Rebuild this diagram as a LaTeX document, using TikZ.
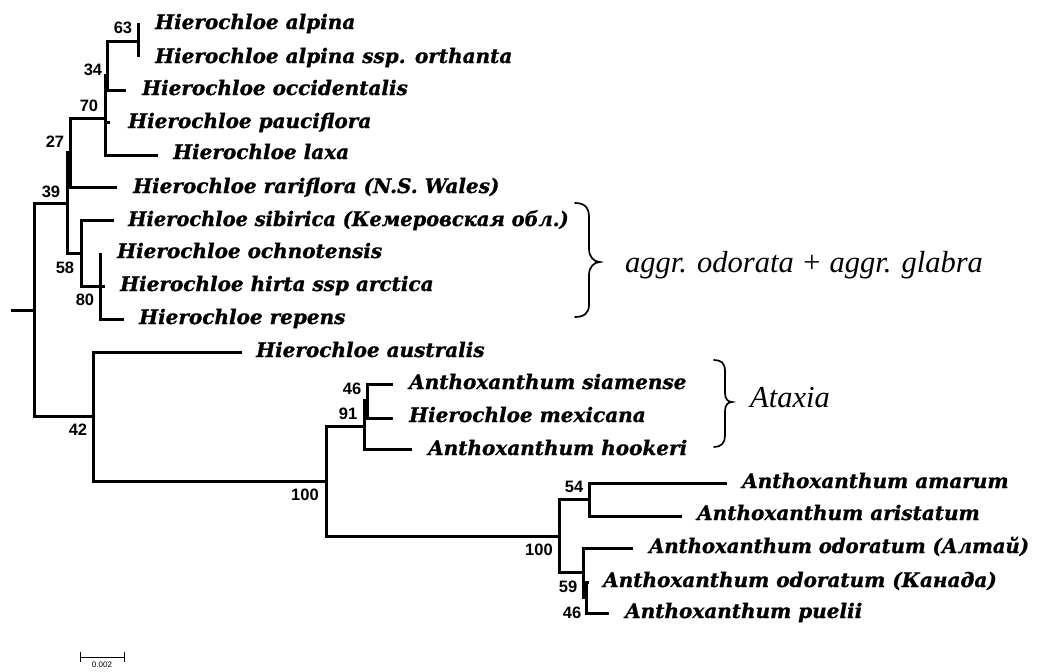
\documentclass[tikz,border=0pt]{standalone}
\usepackage{fontspec}
\newfontfamily\taxfont[BoldItalicFeatures={FakeBold=1}]{DejaVu Serif}
\newfontfamily\bsfont{Liberation Sans}
\newfontfamily\notefont{Liberation Serif}
\begin{document}
\begin{tikzpicture}[x=1pt,y=-1pt,
  branch/.style={line width=3pt},
  taxon/.style={anchor=base west, inner sep=0pt,
    font=\taxfont\bfseries\itshape\fontsize{20}{20}\selectfont},
  boot/.style={inner sep=0pt, font=\bsfont\bfseries\fontsize{16.5}{16.5}\selectfont},
  note/.style={anchor=base west, inner sep=0pt,
    font=\notefont\itshape\fontsize{30.5}{30.5}\selectfont},
  bracepath/.style={line width=1.7pt, line cap=round}]
\useasboundingbox (0,0) rectangle (1037,672);

% internal nodes
\coordinate (stub) at (11,310);
\coordinate (n0) at (34,310);
\coordinate (n39) at (67,203);
\coordinate (n27) at (70,152);
\coordinate (n70) at (105,118);
\coordinate (n34) at (107,75);
\coordinate (n63) at (138,41);
\coordinate (n58) at (81,253);
\coordinate (n80) at (100,286);
\coordinate (n42) at (93,416);
\coordinate (n100a) at (326,481);
\coordinate (n91) at (364,426);
\coordinate (n46a) at (367,400);
\coordinate (n100b) at (559,536);
\coordinate (n54) at (589,499);
\coordinate (n59) at (583,572);
\coordinate (n46b) at (586,597);

% tips
\coordinate (t-alp) at (138,23);
\coordinate (t-orth) at (138,57);
\coordinate (t-occ) at (126,90);
\coordinate (t-pau) at (110,122);
\coordinate (t-lax) at (158,155);
\coordinate (t-rar) at (117,187);
\coordinate (t-sib) at (114,220);
\coordinate (t-och) at (100,253);
\coordinate (t-hir) at (105,286);
\coordinate (t-rep) at (124,319);
\coordinate (t-aus) at (242,352);
\coordinate (t-sia) at (393,384);
\coordinate (t-mex) at (393,418);
\coordinate (t-hoo) at (412,449);
\coordinate (t-ama) at (727,483);
\coordinate (t-ari) at (682,516);
\coordinate (t-alt) at (633,548);
\coordinate (t-kan) at (589,582);
\coordinate (t-pue) at (609,613);

% branches
\draw[branch] (stub) -- (n0);
\foreach \p/\c in {n0/n39, n0/n42,
    n39/n27, n39/n58,
    n27/n70, n27/t-rar,
    n70/n34, n70/t-pau, n70/t-lax,
    n34/n63, n34/t-occ,
    n63/t-alp, n63/t-orth,
    n58/t-sib, n58/n80,
    n80/t-och, n80/t-hir, n80/t-rep,
    n42/t-aus, n42/n100a,
    n100a/n91, n100a/n100b,
    n91/n46a, n91/t-hoo,
    n46a/t-sia, n46a/t-mex,
    n100b/n54, n100b/n59,
    n54/t-ama, n54/t-ari,
    n59/t-alt, n59/n46b,
    n46b/t-kan, n46b/t-pue}
  \draw[branch] (\p) |- (\c);

% taxon names
\node[taxon] (l-alp) at (155,29) {Hierochloe alpina};
\node[taxon] (l-orth) at (155,63) {Hierochloe alpina ssp. orthanta};
\node[taxon] (l-occ) at (142,95) {Hierochloe occidentalis};
\node[taxon] (l-pau) at (128,128) {Hierochloe pauciflora};
\node[taxon] (l-lax) at (173,159) {Hierochloe laxa};
\node[taxon] (l-rar) at (133,193) {Hierochloe rariflora (N.S. Wales)};
\node[taxon] (l-sib) at (128,226) {\scalebox{0.97}[1]{Hierochloe sibirica (Кемеровская обл.)}};
\node[taxon] (l-och) at (117,258) {Hierochloe ochnotensis};
\node[taxon] (l-hir) at (120,291) {Hierochloe hirta ssp arctica};
\node[taxon] (l-rep) at (139,324) {Hierochloe repens};
\node[taxon] (l-aus) at (256,357) {Hierochloe australis};
\node[taxon] (l-sia) at (409,389) {Anthoxanthum siamense};
\node[taxon] (l-mex) at (409,422) {Hierochloe mexicana};
\node[taxon] (l-hoo) at (428,455) {Anthoxanthum hookeri};
\node[taxon] (l-ama) at (742,488) {Anthoxanthum amarum};
\node[taxon] (l-ari) at (697,520) {Anthoxanthum aristatum};
\node[taxon] (l-alt) at (649,553) {\scalebox{0.98}[1]{Anthoxanthum odoratum (Алтай)}};
\node[taxon] (l-kan) at (603,587) {Anthoxanthum odoratum (Канада)};
\node[taxon] (l-pue) at (625,618) {Anthoxanthum puelii};

% bootstrap support
\node[boot] (b63) at (123,28) {63};
\node[boot] (b34) at (93,70) {34};
\node[boot] (b70) at (89,106) {70};
\node[boot] (b27) at (55,142) {27};
\node[boot] (b39) at (51,192) {39};
\node[boot] (b58) at (65,268) {58};
\node[boot] (b80) at (85,300) {80};
\node[boot] (b42) at (78,430) {42};
\node[boot] (b100a) at (305,495) {100};
\node[boot] (b46a) at (352,389) {46};
\node[boot] (b91) at (348,414) {91};
\node[boot] (b54) at (574,487) {54};
\node[boot] (b100b) at (539,550) {100};
\node[boot] (b59) at (568,587) {59};
\node[boot] (b46b) at (572,613) {46};

% group braces
\draw[bracepath] (575,203) .. controls (584,203) and (589,207) .. (589,217)
  -- (589,249) .. controls (589,257) and (594,262) .. (600,262)
  .. controls (594,262) and (589,267) .. (589,275)
  -- (589,305) .. controls (589,313) and (584,317) .. (575,317);
\draw[bracepath] (714,360) .. controls (721,360) and (725,363) .. (725,371)
  -- (725,393) .. controls (725,399) and (728,402) .. (732,402)
  .. controls (728,402) and (725,405) .. (725,411)
  -- (725,436) .. controls (725,443) and (721,447) .. (714,447);
\node[note] (g1) at (625,272) {aggr. odorata + aggr. glabra};
\node[note] (g2) at (750,407) {Ataxia};

% scale bar
\coordinate (sbL) at (80,657);
\coordinate (sbR) at (124,657);
\draw[line width=1pt] (sbL) -- (sbR);
\draw[line width=1pt] ([yshift=-5pt]sbL) -- ([yshift=5pt]sbL);
\draw[line width=1pt] ([yshift=-5pt]sbR) -- ([yshift=5pt]sbR);
\node[anchor=north, inner sep=0pt, font=\bsfont\fontsize{8}{8}\selectfont] (sbt) at (102,662) {0.002};
\end{tikzpicture}
\end{document}
